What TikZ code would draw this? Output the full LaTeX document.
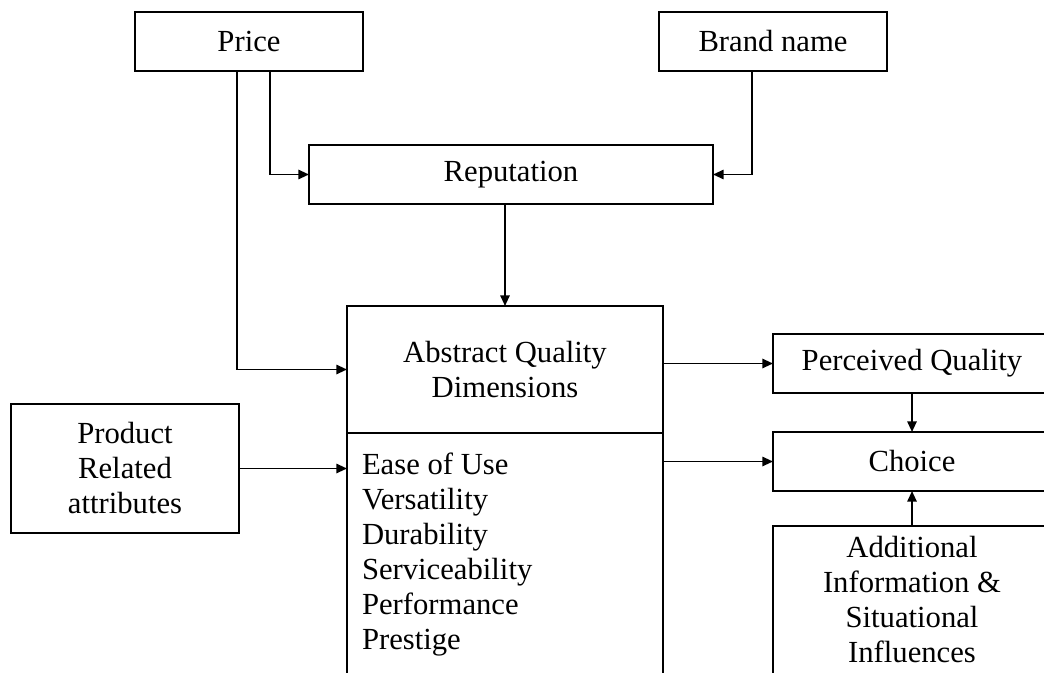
\documentclass[tikz,border=0pt]{standalone}
\usepackage{fontspec}
\setmainfont{Liberation Serif}
\usetikzlibrary{arrows.meta}
\begin{document}
\begin{tikzpicture}[x=0.75pt,y=-0.75pt,
  txt/.style={inner sep=0pt, outer sep=0pt, align=center, font=\fontsize{23}{26.25}\selectfont},
  box/.style={txt, draw, line width=2.1pt},
  link/.style={line width=1.4pt, -{Triangle[length=8pt,width=7pt]}}]
\useasboundingbox (0,0) rectangle (1044,673);
\clip (0,0) rectangle (1044,673);

% sources
\node[box, minimum width=171pt, minimum height=44.25pt] (price) at (249,41.5) {Price};
\node[box, minimum width=171pt, minimum height=44.25pt] (brand) at (773,41.5) {Brand name};
\node[box, minimum width=303pt, minimum height=44.25pt] (rep) at (511,174.5) {Reputation};
\node[box, minimum width=171pt, minimum height=96.75pt] (prod) at (125,468.5) {Product\\Related\\attributes};

% quality dimensions block
\node[box, minimum width=237pt, minimum height=95.25pt] (abs) at (505,369.5) {Abstract Quality\\Dimensions};
\node[box, minimum width=237pt, minimum height=215.25pt, anchor=north] (qlist) at (abs.south) {};
\node[txt, anchor=west, align=left] (qitems) at (362,555) {Ease of Use\\Versatility\\Durability\\Serviceability\\Performance\\Prestige};

% outcomes
\node[box, minimum width=208.5pt, minimum height=44.25pt] (pq) at (912,363.5) {Perceived Quality};
\node[box, minimum width=208.5pt, minimum height=44.25pt] (choice) at (912,461.5) {Choice};
\node[box, minimum width=208.5pt, minimum height=145.5pt, anchor=north] (add) at (912,526) {};
\node[txt] (addtxt) at (912,600) {Additional\\Information \&\\Situational\\Influences};

% connectors
\draw[link] ([xshift=-9pt]price.south) |- (abs.west);
\draw[link] ([xshift=15.75pt]price.south) |- (rep.west);
\draw[link] ([xshift=-15.75pt]brand.south) |- (rep.east);
\draw[link] (rep.south -| abs.north) -- (abs.north);
\draw[link] (prod.east) -- (prod.east -| qlist.west);
\draw[link] (abs.east |- pq.west) -- (pq.west);
\draw[link] (qlist.east |- choice.west) -- (choice.west);
\draw[link] (pq.south) -- (choice.north);
\draw[link] (add.north) -- (choice.south);
\end{tikzpicture}
\end{document}
